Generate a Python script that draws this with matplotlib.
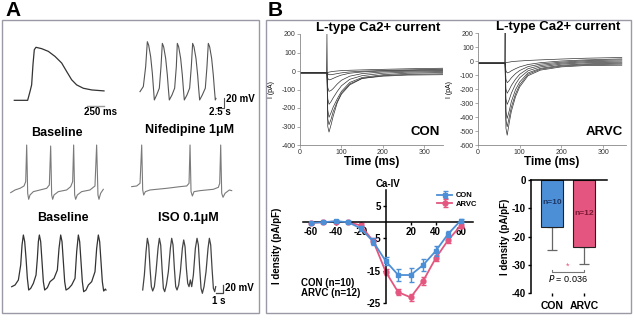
import matplotlib
matplotlib.use('Agg')
import matplotlib.pyplot as plt
from matplotlib.patches import Rectangle

plt.rcParams['font.family'] = ['Liberation Sans', 'DejaVu Sans']
plt.rcParams['axes.unicode_minus'] = False

# ---------------- data: panel A action potentials ----------------
# single AP (ms, mV)
ap1_t = [0, 200, 235, 260, 280, 300, 325, 410, 510, 610, 710, 785, 860, 935, 1035, 1160, 1345]
ap1_v = [-80, -80, -64, -51.5, -14, 13.6, 18, 15.5, 10.5, 1.2, -11, -26.7, -42, -51.5, -57.7, -60.8, -62.6]

# spontaneous APs (s, mV)
ap2_t = [0.0, 1.0, 1.7, 2.2, 2.6, 3.2, 3.7, 4.0, 4.3,
         5.0, 5.8, 6.3, 6.7, 7.1, 7.7, 8.2, 8.5, 8.8,
         9.6, 10.4, 10.9, 11.2, 11.6, 12.2, 12.7, 13.0, 13.3,
         14.1, 14.9, 15.4, 15.8, 16.2, 16.8, 17.3, 17.6, 17.9,
         18.7, 19.6, 20.1, 20.5, 20.9, 21.5, 22.0, 22.3, 22.6, 22.8]
ap2_v = [-64.5, -55, -18, 28.5, 22, 0.6, -30, -55, -80,
         -70.7, -58, -18, 25.4, 19, -2.5, -33.5, -58, -80,
         -70.7, -58, -18, 25.4, 19, -2.5, -33.5, -58, -80,
         -70.7, -58, -18, 25.4, 19, -2.5, -33.5, -58, -80,
         -70.7, -58, -18, 25.4, 19, -2.5, -33.5, -58, -80, -77]

base1_t = [0.0, 0.65, 1.4, 2.0, 2.25, 2.4, 2.55, 2.7, 2.9, 3.4, 4.4, 5.4, 5.8, 6.0, 6.15, 6.3, 6.5,
           7.15, 8.4, 9.0, 9.3, 9.45, 9.6, 9.75, 10.0, 10.65, 11.9, 12.65, 12.9, 13.1, 13.25, 13.5, 13.9]
base1_v = [-74.8, -70, -67, -62.8, -55, 11, -76, -86.8, -79, -73, -70, -67, -61, 9.2, -79, -86.8, -79,
           -73, -70, -64, -55, 11, -79, -86.8, -79, -73, -70, -62.8, 11, -79, -86.8, -76, -68.8]

nif_t = [0, 0.75, 1.25, 1.5, 1.65, 1.8, 2.05, 2.75, 5.25, 7.25, 8.25, 8.6, 8.75, 8.9, 9.1, 9.35,
         10.25, 12.25, 13.0, 13.2, 13.35, 13.5, 13.7, 14.0, 14.65, 15.0]
nif_v = [-64, -62.8, -58, 11, -70, -79, -73, -70, -67, -64, -62.8, -58, 11, -73, -80.8, -73,
         -71.2, -68.8, -65.2, -58, 11, -76, -83.2, -76, -70, -71.2]

base2_t = [0.0, 0.5, 1.0, 1.35, 1.55, 1.75, 1.95, 2.15, 2.35, 2.55, 2.85, 3.25, 3.65, 3.85, 4.0, 4.15,
           4.35, 4.55, 4.75, 4.95, 5.35, 5.75, 6.35, 6.85, 7.1, 7.35, 7.55, 7.75, 7.95, 8.15, 8.55,
           9.0, 9.5, 9.75, 10.0, 10.2, 10.4, 10.6, 10.8, 11.15, 11.5, 12.0, 12.5, 12.75, 13.0, 13.2,
           13.4, 13.6, 13.8, 14.05, 14.15]
base2_v = [-108, -104, -92, -56, -8, 16, 0, -40, -88, -116, -112, -100, -80, -40, 0, 16,
           0, -48, -96, -116, -110.4, -96, -88, -68, -16, 16, 0, -48, -96, -116, -112,
           -104, -88, -24, 16, 0, -48, -96, -120, -116, -104, -96, -72, -16, 16, 0,
           -48, -96, -118.4, -113.6, -116]

iso_t = [0.0, 0.25, 0.5, 0.7, 0.9, 1.1, 1.3, 1.5, 1.75, 2.0, 2.3, 2.5, 2.7, 2.9, 3.1, 3.3, 3.55,
         3.85, 4.15, 4.35, 4.55, 4.75, 4.95, 5.15, 5.4, 5.65, 5.95, 6.15, 6.35, 6.55, 6.75, 6.95,
         7.15, 7.35, 7.6, 7.9, 8.15, 8.35, 8.55, 8.75, 8.95, 9.2, 9.5, 9.8, 10.0, 10.2, 10.4,
         10.6, 10.8, 10.95]
iso_v = [-116, -80, -24, 8, -8, -64, -108, -118.4, -108, -72, -16, 8, -8, -64, -112, -120, -104,
         -72, -16, 8, -8, -64, -108, -116, -104, -72, -16, 4, -12, -64, -100, -108,
         -92, -108, -80, -16, 8, -8, -64, -112, -124, -108, -72, -16, 8, -8, -64,
         -112, -120, -108]

# ---------------- data: panel B L-type Ca2+ currents (ms, pA) ----------------
ca_t = [0, 64, 65, 67, 70, 75, 80, 90, 100, 120, 150, 200, 260, 345]
con_sweeps = [
    [-10, -10, -10, -8, -6, -4, -2, 0, 2, 4, 6, 9, 12, 15],
    [-10, -10, -10, -15, -20, -20, -18, -14, -10, -5, -1, 3, 6, 10],
    [-10, -10, -10, -40, -48, -45, -40, -30, -22, -12, -5, 0, 3, 6],
    [-10, -10, -10, -90, -110, -105, -95, -70, -50, -28, -14, -5, -1, 2],
    [-10, -10, -10, -150, -180, -165, -145, -110, -80, -45, -25, -12, -6, -3],
    [-10, -10, -10, -210, -250, -225, -195, -150, -110, -62, -35, -20, -12, -8],
    [-10, -10, -10, -260, -290, -260, -220, -165, -120, -70, -40, -28, -22, -20],
    [-10, -10, 200, -300, -330, -290, -245, -170, -125, -75, -40, -25, -18, -15],
]
arvc_sweeps = [
    [-15, -15, -15, -12, -10, -8, -5, -2, 0, 4, 8, 14, 20, 25],
    [-15, -15, -15, -70, -85, -80, -70, -55, -42, -25, -12, 0, 8, 15],
    [-15, -15, -15, -130, -155, -140, -120, -90, -68, -40, -22, -8, 2, 8],
    [-15, -15, -15, -200, -230, -205, -175, -130, -95, -55, -32, -15, -5, 0],
    [-15, -15, -15, -270, -310, -275, -230, -165, -120, -70, -42, -22, -12, -8],
    [-15, -15, -15, -360, -410, -355, -290, -205, -150, -85, -52, -30, -20, -15],
    [-15, -15, -15, -420, -470, -400, -330, -235, -170, -95, -58, -36, -26, -22],
    [-15, -15, 200, -480, -530, -440, -360, -255, -185, -105, -65, -42, -32, -30],
]

# ---------------- data: I-V curve ----------------
volt = [-60, -50, -40, -30, -20, -10, 0, 10, 20, 30, 40, 50, 60]
iv_con = [-0.2, 0, 0.3, 0, -1.9, -6.0, -12, -16.3, -16.3, -13.2, -8.9, -3.6, 0.5]
iv_con_err = [0.3, 0.3, 0.3, 0.3, 0.8, 1.0, 1.3, 2.0, 2.3, 1.8, 1.5, 1.0, 0.5]
iv_arvc = [-0.2, 0, 0.2, 0, -1.0, -5.8, -15.3, -21.6, -23.2, -18.1, -11.1, -5.5, -1.1]
iv_arvc_err = [0.3, 0.3, 0.3, 0.3, 0.6, 0.8, 1.0, 1.0, 1.0, 1.2, 1.0, 1.0, 0.6]

# ---------------- data: peak density bars ----------------
groups = ['CON', 'ARVC']
peak_mean = [-16.7, -23.8]
peak_sd = [8.1, 5.9]
n_cells = ['n=10', 'n=12']
p_text = '= 0.036'

C_CON = '#4d8fd6'
C_ARVC = '#e4567f'

W, H = 634, 320
fig = plt.figure(figsize=(W / 100, H / 100), dpi=100)


def rect(l, t, r, b):
    return [l / W, 1 - b / H, (r - l) / W, (b - t) / H]


def ftext(x, y, s, **kw):
    fig.text(x / W, 1 - y / H, s, **kw)


def trace(r, t, v, color, xlim=None, ylim=None, lw=0.9):
    ax = fig.add_axes(rect(*r))
    ax.plot(t, v, color=color, lw=lw, clip_on=False)
    ax.set_xlim(xlim if xlim else (min(t), max(t)))
    ax.set_ylim(ylim if ylim else (min(v), max(v)))
    ax.axis('off')
    return ax


# panel frames
fig.patches.append(Rectangle((2 / W, 1 - 313 / H), 257 / W, 293 / H, transform=fig.transFigure,
                             fill=False, ec='#9a9aa6', lw=1))
fig.patches.append(Rectangle((266 / W, 1 - 313 / H), 365 / W, 293 / H, transform=fig.transFigure,
                             fill=False, ec='#9a9aa6', lw=1))
ftext(5, 11, 'A', fontsize=15, fontweight='bold', va='center')
ftext(268, 11, 'B', fontsize=15, fontweight='bold', va='center')

# ---------------- panel A ----------------
ax = trace((14.3, 47.3, 104, 106), ap1_t, ap1_v, '#333333', ylim=(-90.5, max(ap1_v)))
ax.plot([ap1_t[-1] - 250, ap1_t[-1]], [-90.5, -90.5], color='#999999', lw=1, clip_on=False)
ftext(100, 112, '250 ms', fontsize=7, fontweight='bold', ha='center', va='center')

ax = trace((140, 41.7, 224.3, 108.3), ap2_t, ap2_v, '#555555',
           xlim=(0, ap2_t[-1] + 2.5), ylim=(-95.5, max(ap2_v)), lw=0.8)
ax.plot([ap2_t[-1], ap2_t[-1] + 2.5, ap2_t[-1] + 2.5], [-95.5, -95.5, -75.5],
        color='#555555', lw=0.8, clip_on=False)
ftext(226, 99, '20 mV', fontsize=7, fontweight='bold', va='center')
ftext(220, 112, '2.5 s', fontsize=7, fontweight='bold', ha='center', va='center')

ftext(57, 133, 'Baseline', fontsize=9, fontweight='bold', ha='center', va='center')
ftext(190, 130, 'Nifedipine 1μM', fontsize=9, fontweight='bold', ha='center', va='center')
trace((10.7, 145, 103.3, 199.3), base1_t, base1_v, '#7a7a7a', lw=0.8)
trace((131.7, 145, 231.7, 197.3), nif_t, nif_v, '#7a7a7a', lw=0.8)

ftext(63, 218, 'Baseline', fontsize=9, fontweight='bold', ha='center', va='center')
ftext(188, 218, 'ISO 0.1μM', fontsize=9, fontweight='bold', ha='center', va='center')
trace((11.7, 235, 106, 291.7), base2_t, base2_v, '#333333')
ax = trace((142.7, 238.3, 222.7, 293.3), iso_t, iso_v, '#444444',
           xlim=(0, iso_t[-1] + 1.05), ylim=(-124, max(iso_v)))
ax.plot([iso_t[-1] + 0.05, iso_t[-1] + 1.05, iso_t[-1] + 1.05], [-124, -124, -104],
        color='#444444', lw=0.9, clip_on=False)
ftext(225, 288, '20 mV', fontsize=7, fontweight='bold', va='center')
ftext(219, 301, '1 s', fontsize=7, fontweight='bold', ha='center', va='center')


# ---------------- panel B: current traces ----------------
def ca_axes(r, sweeps, ylim, xmax, label):
    ax = fig.add_axes(rect(*r))
    for s in sweeps:
        ax.plot(ca_t, s, color='#333333', lw=0.5)
    ax.set_xlim(0, xmax)
    ax.set_ylim(*ylim)
    ax.set_yticks(range(ylim[0], ylim[1] + 1, 100))
    ax.set_xticks([0, 100, 200, 300])
    for sp in ['top', 'right']:
        ax.spines[sp].set_visible(False)
    for sp in ['left', 'bottom']:
        ax.spines[sp].set_color('#888888')
        ax.spines[sp].set_linewidth(0.6)
    ax.tick_params(labelsize=5, length=2, width=0.5, color='#888888', pad=1, labelcolor='#333333')
    ax.set_xlabel('Time (ms)', fontsize=8.5, fontweight='bold', labelpad=0)
    ax.set_ylabel('I (pA)', fontsize=5, labelpad=5)
    ax.text(0.98, 0.12, label, transform=ax.transAxes, ha='right', va='center',
            fontsize=9.5, fontweight='bold')
    return ax


ca_axes((300, 34, 443, 145), con_sweeps, (-400, 200), 345, 'CON')
ftext(378, 28, 'L-type Ca2+ current', fontsize=9.5, fontweight='bold', ha='center', va='center')
ca_axes((478, 33, 626, 145), arvc_sweeps, (-600, 200), 355, 'ARVC')
ftext(558, 27, 'L-type Ca2+ current', fontsize=9.5, fontweight='bold', ha='center', va='center')

# ---------------- I-V curve ----------------
ax = fig.add_axes(rect(303.2, 189.8, 473.2, 303.2))
ax.errorbar(volt, iv_con, yerr=iv_con_err, color=C_CON, marker='s', ms=3.5, lw=1.3,
            capsize=1.8, elinewidth=1, label='CON', zorder=3)
ax.errorbar(volt, iv_arvc, yerr=iv_arvc_err, color=C_ARVC, marker='o', ms=3.5, lw=1.3,
            capsize=1.8, elinewidth=1, label='ARVC', zorder=2)
ax.set_xlim(-66, 70)
ax.set_ylim(-25, 10)
ax.spines['left'].set_position(('data', 0))
ax.spines['bottom'].set_position(('data', 0))
for sp in ['top', 'right']:
    ax.spines[sp].set_visible(False)
for sp in ['left', 'bottom']:
    ax.spines[sp].set_linewidth(1.1)
ax.set_xticks([-60, -40, -20, 20, 40, 60])
ax.set_yticks([5, -5, -15, -25])
ax.tick_params(labelsize=7, length=2.5, width=1, pad=1)
for lab in ax.get_xticklabels() + ax.get_yticklabels():
    lab.set_fontweight('bold')
ax.set_title('Ca-IV', fontsize=7, fontweight='bold', pad=2)
ax.legend(loc='upper left', bbox_to_anchor=(430 / W, 1 - 185 / H), bbox_transform=fig.transFigure,
          frameon=False, handlelength=2, handletextpad=0.5, labelspacing=0.15,
          prop={'weight': 'bold', 'size': 5.5})
ftext(301, 283, 'CON (n=10)', fontsize=7, fontweight='bold', va='center')
ftext(301, 293, 'ARVC (n=12)', fontsize=7, fontweight='bold', va='center')
ftext(277, 246, 'I density (pA/pF)', fontsize=7, fontweight='bold', rotation=90,
      ha='center', va='center')

# ---------------- bar chart ----------------
ax = fig.add_axes(rect(530.7, 180, 606.7, 293.3))
xpos = [0, 1]
ax.bar(xpos, peak_mean, width=0.69, color=[C_CON, C_ARVC], edgecolor='#222222', lw=0.8, zorder=2)
ax.errorbar(xpos, peak_mean, yerr=[peak_sd, [0, 0]], fmt='none', ecolor='#666666',
            elinewidth=0.9, capsize=3.5, capthick=0.9, zorder=1)
ax.set_xlim(-0.666, 1.71)
ax.set_ylim(-40, 0)
ax.set_yticks([0, -10, -20, -30, -40])
ax.set_xticks(xpos)
ax.set_xticklabels(groups)
ax.spines['right'].set_visible(False)
ax.spines['bottom'].set_visible(False)
ax.spines['left'].set_linewidth(1.1)
ax.spines['top'].set_linewidth(1.1)
ax.tick_params(labelsize=7, length=2.5, width=1, pad=1)
ax.tick_params(axis='x', labelsize=7.5, pad=3)
for lab in ax.get_xticklabels() + ax.get_yticklabels():
    lab.set_fontweight('bold')
ax.set_ylabel('I density (pA/pF)', fontsize=7, fontweight='bold', labelpad=1)
ax.text(0, -8.1, n_cells[0], ha='center', va='center', fontsize=6, fontweight='bold', color='#1d3563')
ax.text(1, -11.7, n_cells[1], ha='center', va='center', fontsize=6, fontweight='bold', color='#7a1733')
sig_y = -32.4
ax.plot([0, 0, 1, 1], [sig_y + 0.8, sig_y, sig_y, sig_y + 0.8], color='#777777', lw=0.8)
ax.text(0.5, sig_y + 0.3, '*', ha='center', va='bottom', fontsize=6.5, color='#e4567f')
ax.text(0.5, sig_y - 2.4, r'$\it{P}$ ' + p_text, ha='center', va='center', fontsize=6.5)

fig.savefig('out.png', dpi=100)
